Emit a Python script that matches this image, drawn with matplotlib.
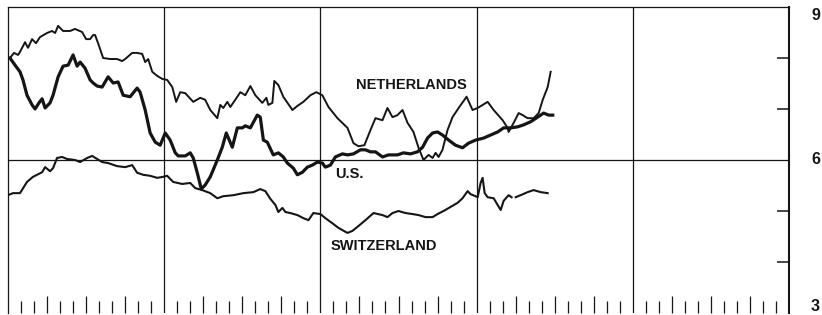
import matplotlib.pyplot as plt
import numpy as np

# x axis: months from the start of the chart (5 years, 0..60), y axis: percent
nl_months = [0.15, 0.46, 0.77, 0.92, 1.31, 1.54, 1.85, 2.15, 2.46, 3.0, 3.38, 3.62, 3.85, 4.23,
             4.77, 5.15, 5.69, 6.0, 6.31, 6.54, 6.69, 6.92, 7.31, 7.85, 8.38, 8.77, 9.0, 9.54,
             9.92, 10.31, 10.54, 10.77, 11.08, 11.46, 11.85, 12.23, 12.62, 12.92, 13.23, 13.62,
             14.23, 14.77, 15.15, 15.54, 16.08, 16.31, 16.54, 16.85, 17.08, 17.46, 17.85, 18.23,
             18.62, 19.0, 19.54, 19.85, 20.0, 20.31, 20.46, 20.77, 21.15, 21.85, 22.23, 22.69,
             23.23, 23.69, 24.15, 24.62, 25.31, 26.08, 26.54, 26.92, 27.38, 27.85, 28.23, 28.77,
             29.15, 29.54, 29.92, 30.31, 30.69, 31.15, 31.54, 31.92, 32.31, 32.62, 32.85, 33.08,
             33.38, 33.77, 34.15, 34.62, 35.23, 35.69, 36.08, 36.85, 37.31, 38.0, 38.38, 38.46,
             38.85, 39.23, 39.54, 39.92, 40.38, 40.77, 41.08, 41.46, 41.69]
nl_rates = [8.00, 8.10, 8.06, 8.12, 8.31, 8.20, 8.37, 8.29, 8.41, 8.49, 8.53, 8.49, 8.63, 8.53,
            8.53, 8.57, 8.51, 8.37, 8.37, 8.45, 8.45, 8.29, 8.00, 7.98, 7.98, 7.94, 7.98, 8.10,
            8.10, 8.08, 7.92, 7.98, 7.73, 7.65, 7.59, 7.57, 7.43, 7.14, 7.33, 7.31,
            7.14, 7.22, 7.18, 6.98, 6.82, 7.08, 7.02, 7.14, 7.04, 7.18, 7.33, 7.27,
            7.45, 7.27, 7.12, 7.22, 7.08, 7.12, 7.55, 7.47, 7.24, 6.98, 7.06, 7.14,
            7.27, 7.33, 7.27, 7.04, 6.82, 6.63, 6.33, 6.27, 6.29, 6.59, 6.82, 6.78,
            7.02, 6.84, 6.88, 6.98, 6.73, 6.55, 6.24, 6.00, 6.10, 6.04, 6.14, 6.06,
            6.20, 6.59, 6.84, 7.02, 7.24, 6.98, 7.02, 7.14, 6.98, 6.78, 6.63, 6.55,
            6.73, 6.92, 6.88, 6.82, 6.82, 6.92, 7.18, 7.43, 7.73]

us_months = [0.15, 0.54, 0.92, 1.15, 1.46, 1.85, 2.08, 2.38, 2.62, 2.85, 3.23, 3.46, 3.85, 4.23,
             4.62, 5.0, 5.31, 5.54, 5.92, 6.31, 6.54, 6.85, 7.23, 7.69, 8.08, 8.46, 8.85, 9.38,
             9.92, 10.15, 10.54, 10.92, 11.31, 11.69, 12.08, 12.46, 12.85, 13.08, 13.62, 14.0,
             14.23, 14.54, 14.85, 15.15, 15.54, 16.08, 16.46, 16.77, 17.23, 17.62, 18.0, 18.23,
             18.62, 19.15, 19.38, 19.62, 19.92, 20.38, 20.77, 21.15, 21.46, 21.92, 22.23, 22.62,
             23.0, 23.38, 23.77, 24.15, 24.38, 24.77, 25.15, 25.69, 26.08, 26.54, 27.08, 27.46,
             27.85, 28.23, 28.77, 29.23, 29.92, 30.38, 30.92, 31.46, 31.85, 32.23, 32.62, 33.0,
             33.38, 33.85, 34.38, 34.92, 35.38, 35.92, 36.54, 37.08, 37.62, 38.08, 38.62, 39.15,
             39.62, 40.15, 40.69, 41.15, 41.54, 41.85]
us_rates = [8.00, 7.86, 7.73, 7.57, 7.27, 7.08, 7.00, 7.12, 7.20, 7.02, 7.12, 7.27, 7.63, 7.84,
            7.86, 8.06, 7.84, 7.92, 7.80, 7.57, 7.51, 7.45, 7.43, 7.63, 7.51, 7.53, 7.27, 7.24,
            7.41, 7.33, 6.98, 6.53, 6.35, 6.29, 6.53, 6.39, 6.14, 6.08, 6.08, 6.14,
            6.04, 5.75, 5.43, 5.51, 5.67, 6.00, 6.25, 6.53, 6.25, 6.63, 6.63, 6.67,
            6.63, 6.88, 6.84, 6.39, 6.35, 6.10, 6.14, 6.06, 5.94, 5.84, 5.71, 5.76,
            5.86, 5.90, 5.96, 5.94, 5.86, 5.90, 6.06, 6.12, 6.10, 6.12, 6.20, 6.20,
            6.16, 6.16, 6.06, 6.10, 6.10, 6.14, 6.12, 6.16, 6.25, 6.43, 6.53, 6.55,
            6.49, 6.39, 6.29, 6.24, 6.33, 6.39, 6.43, 6.49, 6.55, 6.63, 6.63, 6.65,
            6.69, 6.75, 6.84, 6.92, 6.88, 6.88]

# nan marks the small break in the Swiss line
ch_months = [0.0, 0.38, 0.92, 1.46, 1.92, 2.62, 2.85, 3.23, 3.46, 3.77, 4.15, 4.54, 5.15, 5.54,
             6.08, 6.46, 6.85, 7.23, 7.69, 8.38, 9.0, 9.54, 9.92, 10.38, 10.92, 11.46, 11.92,
             12.23, 12.69, 13.38, 14.0, 14.38, 14.92, 15.54, 16.08, 16.54, 17.31, 18.08, 18.85,
             19.38, 19.77, 20.15, 20.54, 20.77, 21.08, 21.31, 21.69, 22.23, 22.69, 23.08, 23.46,
             24.0, 24.38, 24.92, 25.38, 26.08, 26.46, 26.85, 27.46, 28.08, 28.77, 29.15, 29.54,
             30.0, 30.54, 31.08, 31.54, 32.08, 32.62, 33.0, 33.46, 34.0, 34.54, 34.92, 35.31,
             35.54, 35.92, 36.08, 36.31, 36.46, 36.62, 36.85, 37.31, 37.85, 38.08, 38.46, 38.69,
             38.85, 39.0, 39.38, 39.92, 40.38, 40.92, 41.46]
ch_rates = [5.31, 5.35, 5.35, 5.57, 5.67, 5.76, 5.86, 5.78, 5.84, 6.04, 6.06, 6.02, 6.00, 5.96,
            6.04, 6.08, 6.02, 5.96, 5.94, 5.88, 5.86, 5.90, 5.75, 5.71, 5.69, 5.65, 5.67,
            5.69, 5.57, 5.53, 5.55, 5.45, 5.41, 5.35, 5.25, 5.29, 5.31, 5.35, 5.37,
            5.43, 5.39, 5.24, 5.12, 4.98, 5.06, 4.98, 4.96, 4.92, 4.86, 4.82, 4.96,
            4.94, 4.86, 4.76, 4.67, 4.57, 4.61, 4.69, 4.82, 4.96, 4.92, 4.88, 4.96,
            5.00, 4.96, 4.94, 4.92, 4.88, 4.88, 4.94, 5.00, 5.08, 5.16, 5.25, 5.39,
            5.33, 5.29, 5.27, 5.55, 5.65, 5.35, 5.27, 5.25, 5.02, 5.20, 5.31, 5.27,
            np.nan, 5.27, 5.31, 5.37, 5.41, 5.37, 5.35]

right_labels = ['9', '6', '3']
right_values = [9, 6, 3]

ink = '#151515'
label_font = ['Liberation Sans', 'DejaVu Sans']

fig = plt.figure(figsize=(8.22, 3.15), dpi=100)
ax = fig.add_axes([8 / 822, 2 / 315, 781 / 822, 306 / 315])

ax.plot(nl_months, nl_rates, color=ink, lw=1.4, solid_joinstyle='round')
ax.plot(ch_months, ch_rates, color=ink, lw=1.5, solid_joinstyle='round')
ax.plot(us_months, us_rates, color=ink, lw=2.3, solid_joinstyle='round')

ax.set_xlim(0, 60)
ax.set_ylim(3, 9)

# year grid lines and the 6% line
for m in [12, 24, 36, 48]:
    ax.axvline(m, color=ink, lw=0.9, zorder=0)
ax.axhline(6, color=ink, lw=0.9, zorder=0)

# spines
for side in ['left', 'top']:
    ax.spines[side].set_linewidth(0.9)
    ax.spines[side].set_color(ink)
ax.spines['right'].set_linewidth(1.5)
ax.spines['right'].set_color(ink)
ax.spines['bottom'].set_visible(False)

# month ticks along the bottom, longer at quarters
quarters = [m for m in range(1, 60) if m % 3 == 0 and m % 12 != 0]
months = [m for m in range(1, 60) if m % 3 != 0]
ax.set_xticks(quarters)
ax.set_xticks(months, minor=True)
ax.tick_params(axis='x', which='major', direction='in', length=12, width=0.9,
               color=ink, labelbottom=False)
ax.tick_params(axis='x', which='minor', direction='in', length=8.5, width=0.9,
               color=ink)

# unlabeled ticks on the right side
ax.yaxis.tick_right()
ax.set_yticks([4, 5, 7, 8])
ax.tick_params(axis='y', direction='in', length=9, width=1.1, color=ink,
               labelright=False, left=False)

# right hand scale labels
for txt, v in zip(right_labels, right_values):
    va = 'center'
    dy = 0
    if v == 9:
        dy = -0.16
    if v == 3:
        dy = 0.12
    ax.text(1.034, v + dy, txt, transform=ax.get_yaxis_transform(), ha='center', va=va,
            fontsize=11.5, fontweight='bold', family=label_font, color=ink, clip_on=False)

# series labels
ax.text(26.7, 7.47, 'NETHERLANDS', ha='left', va='center', fontsize=10.5,
        fontweight='bold', family=label_font, color=ink)
ax.text(25.15, 5.73, 'U.S.', ha='left', va='center', fontsize=10.5,
        fontweight='bold', family=label_font, color=ink)
ax.text(24.77, 4.31, 'SWITZERLAND', ha='left', va='center', fontsize=10.5,
        fontweight='bold', family=label_font, color=ink)

plt.savefig('out.png', dpi=100)
